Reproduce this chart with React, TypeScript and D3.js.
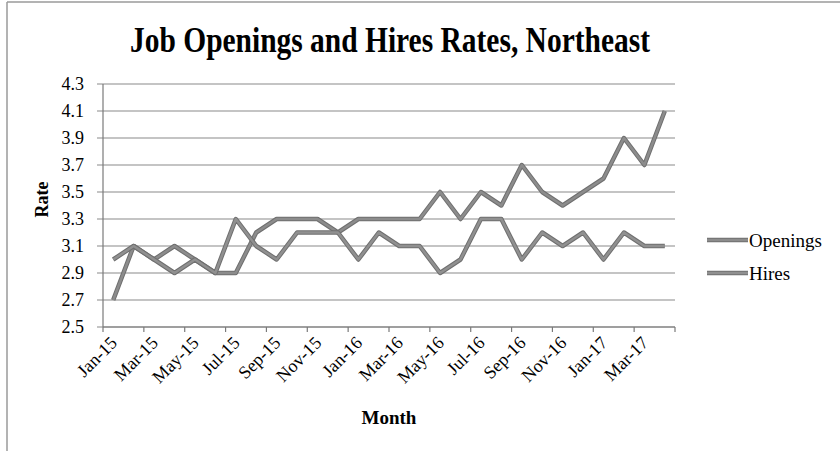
import React, { useEffect, useRef } from "react";
import * as d3 from "d3";

const months = [
  "Jan-15", "Feb-15", "Mar-15", "Apr-15", "May-15", "Jun-15", "Jul-15", "Aug-15", "Sep-15", "Oct-15",
  "Nov-15", "Dec-15", "Jan-16", "Feb-16", "Mar-16", "Apr-16", "May-16", "Jun-16", "Jul-16", "Aug-16",
  "Sep-16", "Oct-16", "Nov-16", "Dec-16", "Jan-17", "Feb-17", "Mar-17", "Apr-17",
];
const openings = [
  2.7, 3.1, 3.0, 3.1, 3.0, 2.9, 2.9, 3.2, 3.3, 3.3, 3.3, 3.2, 3.3, 3.3,
  3.3, 3.3, 3.5, 3.3, 3.5, 3.4, 3.7, 3.5, 3.4, 3.5, 3.6, 3.9, 3.7, 4.1,
];
const hires = [
  3.0, 3.1, 3.0, 2.9, 3.0, 2.9, 3.3, 3.1, 3.0, 3.2, 3.2, 3.2, 3.0, 3.2,
  3.1, 3.1, 2.9, 3.0, 3.3, 3.3, 3.0, 3.2, 3.1, 3.2, 3.0, 3.2, 3.1, 3.1,
];
const yTicks = [2.5, 2.7, 2.9, 3.1, 3.3, 3.5, 3.7, 3.9, 4.1, 4.3];
const seriesNames = ["Openings", "Hires"];

const W = 840;
const H = 451;
const FONT = "'Liberation Serif', 'Times New Roman', serif";

export default function App() {
  const svgRef = useRef<SVGSVGElement>(null);

  useEffect(() => {
    const svg = d3.select(svgRef.current);
    svg.selectAll("*").remove();

    const left = 103, right = 675, top = 84, bottom = 327;

    const x = d3.scalePoint<string>().domain(months).range([left, right]).padding(0.5);
    const step = x.step();
    const y = d3.scaleLinear().domain([2.5, 4.3]).range([bottom, top]);

    // frame (scanned page edge)
    svg.append("line").attr("x1", 7).attr("x2", W).attr("y1", 2).attr("y2", 2)
      .attr("stroke", "#9a9a9a").attr("stroke-width", 1.5);
    svg.append("line").attr("x1", 7).attr("x2", 7).attr("y1", 2).attr("y2", H)
      .attr("stroke", "#9a9a9a").attr("stroke-width", 1.5);

    svg.append("text")
      .attr("x", 390).attr("y", 52)
      .attr("text-anchor", "middle")
      .attr("font-family", FONT).attr("font-weight", "bold").attr("font-size", 36)
      .attr("textLength", 520).attr("lengthAdjust", "spacingAndGlyphs")
      .text("Job Openings and Hires Rates, Northeast");

    // gridlines + y ticks
    const g = svg.append("g");
    yTicks.forEach((t) => {
      g.append("line").attr("x1", left - 6).attr("x2", right).attr("y1", y(t)).attr("y2", y(t))
        .attr("stroke", "#8a8a8a").attr("stroke-width", 1.2);
      g.append("text").attr("x", 84).attr("y", y(t)).attr("dy", "0.35em")
        .attr("text-anchor", "end").attr("font-family", FONT).attr("font-size", 18)
        .text(t.toFixed(1));
    });

    // axes
    g.append("line").attr("x1", left).attr("x2", left).attr("y1", top).attr("y2", bottom)
      .attr("stroke", "#7a7a7a").attr("stroke-width", 1.2);
    g.append("line").attr("x1", left).attr("x2", right).attr("y1", bottom).attr("y2", bottom)
      .attr("stroke", "#7a7a7a").attr("stroke-width", 1.2);

    for (let k = 0; k <= months.length; k += 2) {
      const tx = left + k * step;
      g.append("line").attr("x1", tx).attr("x2", tx).attr("y1", bottom).attr("y2", bottom + 5)
        .attr("stroke", "#7a7a7a").attr("stroke-width", 1.2);
    }

    months.forEach((m, i) => {
      if (i % 2 !== 0) return;
      const px = x(m)! + 5;
      const py = bottom + 17;
      g.append("text")
        .attr("transform", `translate(${px},${py}) rotate(-45)`)
        .attr("text-anchor", "end")
        .attr("font-family", FONT).attr("font-size", 18)
        .text(m);
    });

    svg.append("text")
      .attr("transform", `translate(48,${(top + bottom) / 2 - 6}) rotate(-90)`)
      .attr("text-anchor", "middle")
      .attr("font-family", FONT).attr("font-weight", "bold").attr("font-size", 18)
      .text("Rate");

    svg.append("text")
      .attr("x", 389).attr("y", 424)
      .attr("text-anchor", "middle")
      .attr("font-family", FONT).attr("font-weight", "bold").attr("font-size", 19)
      .text("Month");

    const colors = ["#8c8c8c", "#909090"];
    const line = d3.line<number>().x((_, i) => x(months[i])!).y((d) => y(d));

    [openings, hires].forEach((s, si) => {
      svg.append("path").attr("d", line(s)!)
        .attr("fill", "none").attr("stroke", "#6f6f6f").attr("stroke-width", 4.5)
        .attr("stroke-linejoin", "round");
      svg.append("path").attr("d", line(s)!)
        .attr("fill", "none").attr("stroke", colors[si]).attr("stroke-width", 2.5)
        .attr("stroke-linejoin", "round");
    });

    // legend
    const legendY = [240, 273];
    seriesNames.forEach((n, i) => {
      svg.append("line").attr("x1", 707).attr("x2", 748).attr("y1", legendY[i]).attr("y2", legendY[i])
        .attr("stroke", "#6f6f6f").attr("stroke-width", 4.5);
      svg.append("line").attr("x1", 707).attr("x2", 748).attr("y1", legendY[i]).attr("y2", legendY[i])
        .attr("stroke", colors[i]).attr("stroke-width", 2.5);
      svg.append("text").attr("x", 749).attr("y", legendY[i]).attr("dy", "0.35em")
        .attr("font-family", FONT).attr("font-size", 19)
        .text(n);
    });
  }, []);

  return (
    <div style={{ position: "absolute", left: 0, top: 0, background: "#fff" }}>
      <svg ref={svgRef} width={W} height={H} style={{ display: "block" }} />
    </div>
  );
}
